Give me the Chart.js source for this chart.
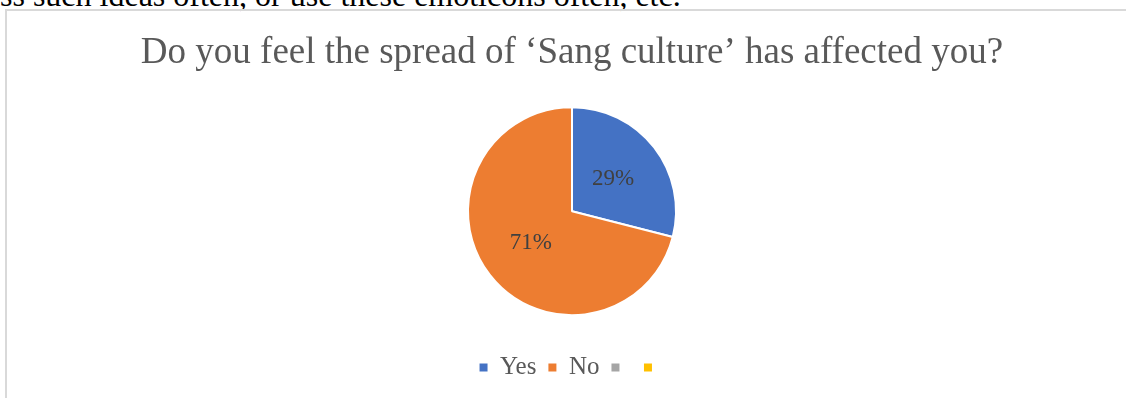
<!DOCTYPE html>
<html>
<head>
<meta charset="utf-8">
<script src="https://cdn.jsdelivr.net/npm/chart.js@4.4.1/dist/chart.umd.min.js"></script>
<style>
  html, body { margin: 0; padding: 0; background: #fff; }
  body { width: 1126px; height: 398px; position: relative; overflow: hidden; }
  #above {
    position: absolute; left: 0; top: -21px; white-space: nowrap;
    font: 32px/32px "Liberation Serif", "Times New Roman", serif; color: #000;
  }
  #frame {
    position: absolute; left: 5px; top: 9px; width: 1200px; height: 500px;
    border: 2px solid #d9d9d9; box-sizing: border-box;
  }
  #chart { position: absolute; left: 0; top: 0; }
</style>
</head>
<body>
<div id="above">ss such ideas often, or use these emoticons often, etc.</div>
<div id="frame"></div>
<canvas id="chart" width="1126" height="398"></canvas>
<script>
// answers to the survey question
var answerLabels = ['Yes', 'No', '', ''];
var answerShares = [29, 71, 0, 0];
var answerColors = ['#4472C4', '#ED7D31', '#A5A5A5', '#FFC000'];

var serif = '"Liberation Serif", "Times New Roman", serif';

// percent labels half way out along each slice
var sliceLabels = {
  id: 'sliceLabels',
  afterDatasetsDraw: function(chart) {
    var ctx = chart.ctx;
    var meta = chart.getDatasetMeta(0);
    ctx.save();
    ctx.font = '23px ' + serif;
    ctx.fillStyle = '#404040';
    ctx.textAlign = 'center';
    ctx.textBaseline = 'middle';
    meta.data.forEach(function(arc, i) {
      var v = answerShares[i];
      if (!v) return;
      var p = arc.getProps(['x', 'y', 'startAngle', 'endAngle', 'outerRadius']);
      var mid = (p.startAngle + p.endAngle) / 2;
      var r = p.outerRadius * 0.5;
      ctx.fillText(v + '%', p.x + Math.cos(mid) * r, p.y + Math.sin(mid) * r);
    });
    ctx.restore();
  }
};

var pieLegend = Chart.overrides.pie.plugins.legend.labels.generateLabels;

new Chart(document.getElementById('chart'), {
  type: 'pie',
  data: {
    labels: answerLabels,
    datasets: [{
      data: answerShares,
      backgroundColor: answerColors,
      borderColor: '#ffffff',
      borderWidth: 2,
      radius: 104
    }]
  },
  options: {
    responsive: false,
    animation: false,
    events: [],
    layout: { padding: { left: 18, bottom: 8 } },
    plugins: {
      tooltip: { enabled: false },
      title: {
        display: true,
        text: 'Do you feel the spread of \u2018Sang culture\u2019 has affected you?',
        color: '#595959',
        font: { family: serif, size: 37, weight: 'normal' },
        padding: { top: 31, bottom: 4 }
      },
      legend: {
        position: 'bottom',
        labels: {
          color: '#595959',
          font: { family: serif, size: 25 },
          boxWidth: 8,
          boxHeight: 8,
          padding: 12,
          generateLabels: function(chart) {
            return pieLegend(chart).map(function(item) {
              item.lineWidth = 0;
              return item;
            });
          }
        }
      }
    }
  },
  plugins: [sliceLabels]
});
</script>
</body>
</html>
